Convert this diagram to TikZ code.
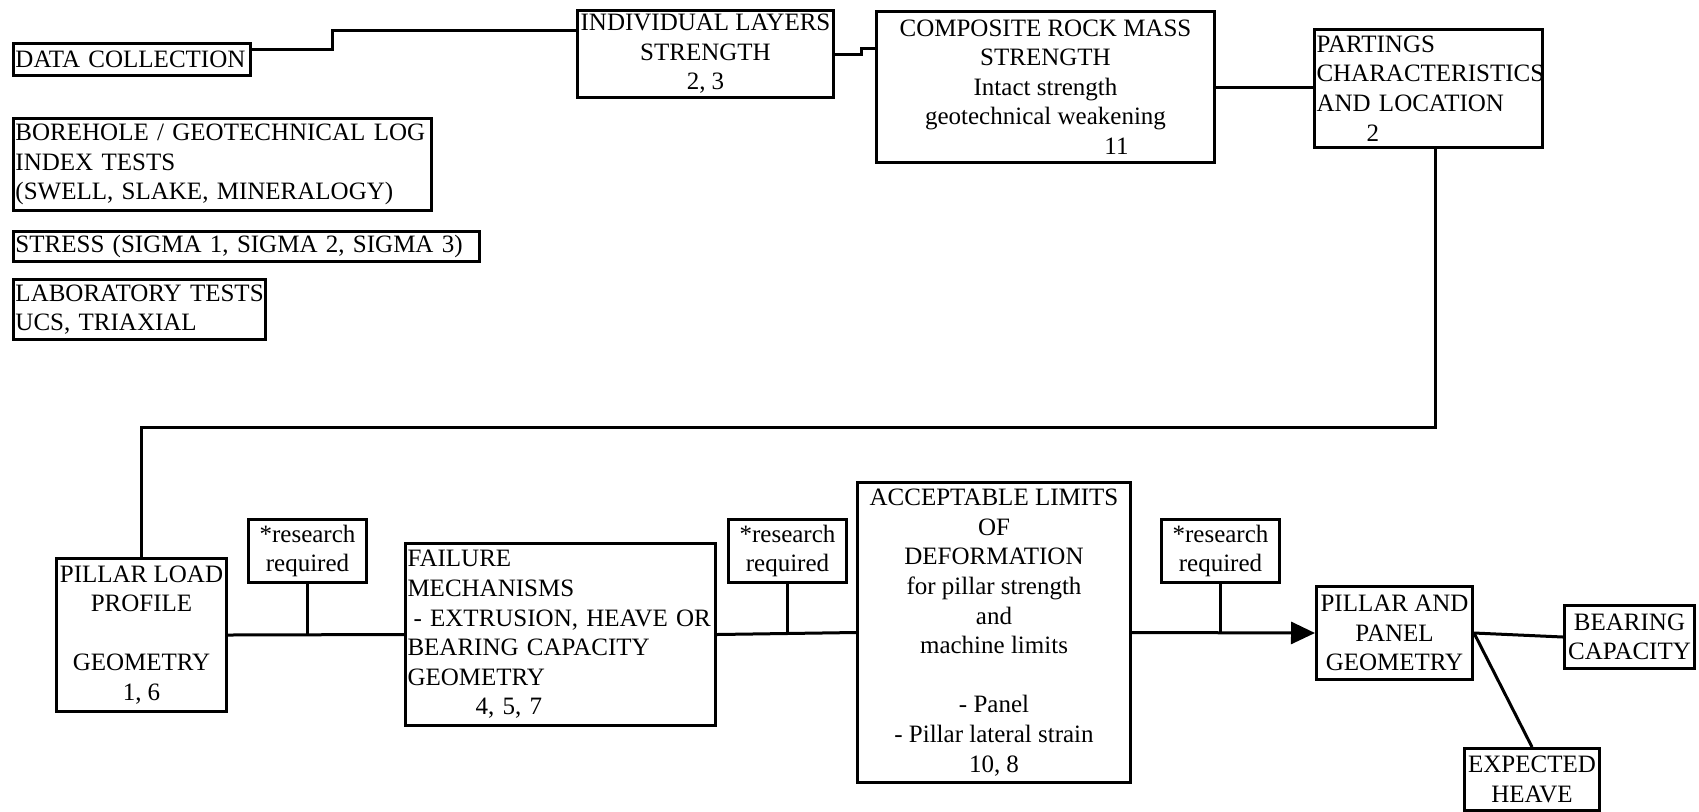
\documentclass[tikz,border=0pt]{standalone}
\usepackage{fontspec}
\setmainfont{Liberation Serif}
\usetikzlibrary{arrows.meta}
\begin{document}
\begin{tikzpicture}[x=0.5pt, y=-0.5pt,
    every node/.style={font=\fontsize{12.5}{14.8}\selectfont},
    box/.style={draw, line width=1.5pt, anchor=north west, inner xsep=1pt, inner ysep=0pt},
    cbox/.style={box, align=center},
    lbox/.style={box, align=left},
    rbox/.style={cbox, minimum width=59pt, minimum height=31.5pt},
    link/.style={line width=1.5pt}]
    \useasboundingbox[fill=white] (0,0) rectangle (1699,811);
    \node[lbox, text width=116.5pt, minimum height=16pt] (DC) at (12,42) {DATA COLLECTION};
    \node[lbox, text width=207pt, minimum height=46pt] (BH) at (12,117) {BOREHOLE / GEOTECHNICAL LOG\\INDEX TESTS\\(SWELL, SLAKE, MINERALOGY)};
    \node[lbox, text width=231pt, minimum height=15pt] (ST) at (12,230) {STRESS (SIGMA 1, SIGMA 2, SIGMA 3)};
    \node[lbox, text width=124pt, minimum height=30pt] (LT) at (12,278) {\mbox{LABORATORY TESTS}\\UCS, TRIAXIAL};
    \node[cbox, minimum width=128pt, minimum height=43.5pt] (IL) at (576,9) {INDIVIDUAL LAYERS\\STRENGTH\\2, 3};
    \node[cbox, minimum width=169pt, minimum height=75.5pt] (CR) at (875,10) {COMPOSITE ROCK MASS\\STRENGTH\\Intact strength\\geotechnical weakening\\\hspace*{71pt}11};
    \node[lbox, text width=112pt, minimum height=59pt] (PC) at (1313,28) {PARTINGS\\\mbox{CHARACTERISTICS}\\AND LOCATION\\\hspace*{25pt}2};
    \node[cbox, minimum width=85pt, minimum height=76.5pt] (PL) at (55,557) {PILLAR LOAD\\PROFILE\\\mbox{}\\GEOMETRY\\1, 6};
    \node[rbox] (R1) at (247,518) {*research\\required};
    \node[lbox, text width=153pt, minimum height=91pt] (FM) at (404,542) {FAILURE\\MECHANISMS\\\mbox{\hspace*{3pt}- EXTRUSION, HEAVE OR}\\BEARING CAPACITY\\GEOMETRY\\\hspace*{34pt}4, 5, 7};
    \node[rbox] (R2) at (727,518) {*research\\required};
    \node[cbox, minimum width=136.5pt, minimum height=150pt] (AL) at (856,481) {ACCEPTABLE LIMITS\\OF\\DEFORMATION\\for pillar strength\\and\\machine limits\\\mbox{}\\- Panel\\- Pillar lateral strain\\10, 8};
    \node[rbox] (R3) at (1160,518) {*research\\required};
    \node[cbox, minimum width=78pt, minimum height=46.5pt] (PP) at (1315,585) {PILLAR AND\\PANEL\\GEOMETRY};
    \node[cbox, minimum width=65pt, minimum height=31.5pt] (BC) at (1563,604) {BEARING\\CAPACITY};
    \node[cbox, minimum width=67.5pt, minimum height=31pt] (EH) at (1463,747) {EXPECTED\\HEAVE};
    \draw[link] ([yshift=5pt]DC.east) -- ++(80,0) |- ([yshift=11.75pt]IL.west);
    \draw[link] (IL.east) -- ++(26,0) |- ([yshift=19.25pt]CR.west);
    \draw[link] (CR.east) -- (CR.east -| PC.west);
    \draw[link] ([xshift=3.5pt]PC.south) -- ++(0,278) -| (PL.north);
    \draw[link] (PL.east) -- (FM.west);
    \draw[link] (R1.south) -- (R1.south |- PL.east);
    \draw[link] (FM.east) -- (AL.west);
    \draw[link] (R2.south) -- (R2.south |- FM.east);
    \draw[link, -{Triangle[length=12pt, width=11pt]}] (AL.east) -- (PP.west);
    \draw[link] (R3.south) -- (R3.south |- AL.east);
    \draw[link] (PP.east) -- (BC.west);
    \draw[link] (PP.east) -- (EH.north);
\end{tikzpicture}
\end{document}
